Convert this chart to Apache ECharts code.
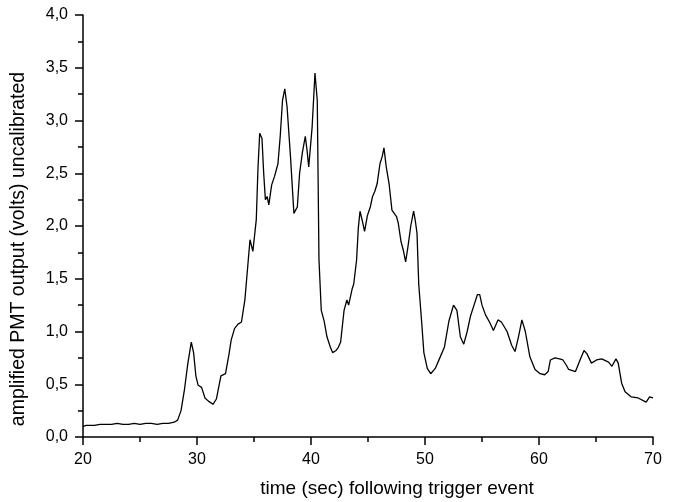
<!DOCTYPE html>
<html>
<head>
<meta charset="utf-8">
<script src="https://cdn.jsdelivr.net/npm/echarts@6/dist/echarts.min.js"></script>
<style>
  html, body { margin: 0; padding: 0; background: #fff; }
  #main { width: 674px; height: 502px; }
</style>
</head>
<body>
<div id="main"></div>
<script>
// time after trigger (s) and PMT output (V)
var time = [20.0, 20.3, 21.0, 21.5, 22.0, 22.5, 23.0, 23.5, 24.0, 24.5, 25.0, 25.5, 26.0, 26.5, 27.0, 27.5,
  28.0, 28.3, 28.6, 28.9, 29.2, 29.5, 29.7, 29.9, 30.1, 30.4, 30.7, 31.0, 31.4, 31.7, 31.9, 32.1, 32.5, 32.8,
  33.0, 33.3, 33.6, 33.9, 34.2, 34.5, 34.65, 34.9, 35.2, 35.35, 35.5, 35.7, 35.85, 36.0, 36.15, 36.3, 36.55,
  36.8, 37.1, 37.3, 37.5, 37.7, 37.9, 38.2, 38.5, 38.65, 38.8, 39.0, 39.25, 39.5, 39.65, 39.8, 40.1, 40.35,
  40.55, 40.7, 40.9, 41.15, 41.4, 41.7, 41.9, 42.2, 42.4, 42.6, 42.9, 43.15, 43.3, 43.6, 43.75, 44.0, 44.15,
  44.3, 44.5, 44.7, 44.95, 45.2, 45.4, 45.6, 45.8, 46.05, 46.25, 46.4, 46.6, 46.85, 47.1, 47.3, 47.5, 47.65,
  47.9, 48.1, 48.3, 48.5, 48.75, 49.0, 49.15, 49.3, 49.45, 49.7, 49.9, 50.2, 50.5, 50.9, 51.3, 51.7, 52.1,
  52.5, 52.8, 53.1, 53.4, 53.7, 54.0, 54.3, 54.6, 54.8, 55.0, 55.3, 55.7, 56.0, 56.4, 56.7, 57.2, 57.6, 57.9,
  58.2, 58.5, 58.8, 59.2, 59.65, 60.1, 60.5, 60.8, 61.0, 61.4, 61.8, 62.1, 62.4, 62.6, 63.2, 63.6, 63.95,
  64.2, 64.6, 65.05, 65.5, 66.1, 66.4, 66.75, 66.95, 67.25, 67.55, 68.1, 68.7, 69.4, 69.7, 70.0];
var volts = [0.10, 0.11, 0.11, 0.12, 0.12, 0.12, 0.13, 0.12, 0.12, 0.13, 0.12, 0.13, 0.13, 0.12, 0.13, 0.13,
  0.14, 0.16, 0.25, 0.45, 0.70, 0.90, 0.80, 0.58, 0.49, 0.47, 0.37, 0.34, 0.31, 0.36, 0.47, 0.58, 0.60, 0.78,
  0.92, 1.03, 1.07, 1.09, 1.30, 1.68, 1.87, 1.76, 2.06, 2.55, 2.88, 2.83, 2.50, 2.25, 2.28, 2.20, 2.39,
  2.47, 2.59, 2.85, 3.19, 3.30, 3.13, 2.66, 2.12, 2.15, 2.18, 2.50, 2.70, 2.85, 2.72, 2.56, 2.94, 3.45,
  3.19, 1.68, 1.20, 1.10, 0.95, 0.85, 0.80, 0.82, 0.85, 0.90, 1.20, 1.30, 1.25, 1.40, 1.45, 1.68, 1.98,
  2.14, 2.05, 1.95, 2.10, 2.18, 2.28, 2.33, 2.40, 2.59, 2.66, 2.74, 2.56, 2.40, 2.15, 2.12, 2.09, 2.03,
  1.85, 1.77, 1.66, 1.80, 2.00, 2.14, 2.05, 1.93, 1.45, 1.10, 0.80, 0.65, 0.60, 0.65, 0.75, 0.85, 1.10,
  1.25, 1.20, 0.95, 0.88, 1.00, 1.15, 1.25, 1.35, 1.35, 1.25, 1.16, 1.08, 1.01, 1.11, 1.09, 1.00, 0.87, 0.81,
  0.95, 1.11, 1.00, 0.76, 0.64, 0.60, 0.59, 0.62, 0.73, 0.75, 0.74, 0.73, 0.68, 0.64, 0.62, 0.73, 0.82,
  0.79, 0.70, 0.73, 0.74, 0.71, 0.67, 0.74, 0.70, 0.51, 0.43, 0.38, 0.37, 0.33, 0.38, 0.37];

var xTicks = [20, 30, 40, 50, 60, 70];
var yTicks = [0, 0.5, 1, 1.5, 2, 2.5, 3, 3.5, 4];

var chart = echarts.init(document.getElementById('main'));

var points = [];
for (var i = 0; i < time.length; i++) {
  points.push([time[i], volts[i]]);
}

var font = 'Liberation Sans, Arial, sans-serif';

chart.setOption({
  animation: false,
  backgroundColor: '#fff',
  grid: {
    left: 83,
    right: 21,
    top: 15,
    bottom: 65,
    outerBoundsMode: 'none'
  },
  xAxis: {
    type: 'value',
    min: xTicks[0],
    max: xTicks[xTicks.length - 1],
    interval: 10,
    name: 'time (sec) following trigger event',
    nameLocation: 'middle',
    nameGap: 42,
    nameTextStyle: { color: '#000', fontSize: 19, fontFamily: font, padding: [0, 0, 0, 58] },
    axisLine: { lineStyle: { color: '#000', width: 1.5 } },
    axisTick: { length: 8, lineStyle: { color: '#000', width: 1.5 } },
    minorTick: { show: true, splitNumber: 2, length: 5, lineStyle: { color: '#000', width: 1.5 } },
    splitLine: { show: false },
    axisLabel: { color: '#000', fontSize: 16, fontFamily: font, margin: 15 }
  },
  yAxis: {
    type: 'value',
    min: yTicks[0],
    max: yTicks[yTicks.length - 1],
    interval: 0.5,
    name: 'amplified PMT output (volts) uncalibrated',
    nameLocation: 'middle',
    nameGap: 54,
    nameTextStyle: { color: '#000', fontSize: 19.5, fontFamily: font, padding: [0, 46, 0, 0] },
    axisLine: { show: true, lineStyle: { color: '#000', width: 1.5 } },
    axisTick: { show: true, length: 8, lineStyle: { color: '#000', width: 1.5 } },
    minorTick: { show: true, splitNumber: 2, length: 5, lineStyle: { color: '#000', width: 1.5 } },
    splitLine: { show: false },
    axisLabel: {
      color: '#000', fontSize: 16, fontFamily: font, margin: 15,
      formatter: function (v) { return v.toFixed(1).replace('.', ','); }
    }
  },
  series: [{
    type: 'line',
    data: points,
    symbol: 'none',
    smooth: false,
    lineStyle: { color: '#000', width: 1.3 }
  }]
});
</script>
</body>
</html>
